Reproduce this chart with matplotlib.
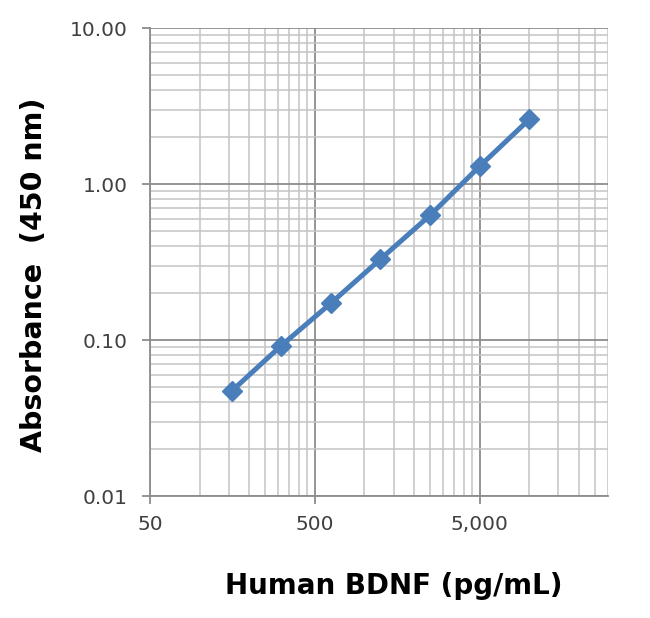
import matplotlib
matplotlib.use("Agg")
import matplotlib.pyplot as plt
from matplotlib.ticker import FixedLocator, NullFormatter

# Data
concentration = [156.25, 312.5, 625, 1250, 2500, 5000, 10000]
absorbance = [0.047, 0.092, 0.172, 0.33, 0.63, 1.30, 2.60]

x_major = [50, 500, 5000]
x_major_labels = ["50", "500", "5,000"]
y_major = [0.01, 0.1, 1, 10]
y_major_labels = ["0.01", "0.10", "1.00", "10.00"]

x_minor = [50 * k for k in range(2, 10)] + [500 * k for k in range(2, 10)] + [5000 * k for k in range(2, 7)]
y_minor = [d * k for d in (0.01, 0.1, 1) for k in range(2, 10)]

fig = plt.figure(figsize=(6.5, 6.18), dpi=100)
ax = fig.add_axes([150 / 650, 1 - 496 / 618, 458 / 650, 468 / 618])

ax.set_xscale("log")
ax.set_yscale("log")
ax.set_xlim(50, 30000)
ax.set_ylim(0.01, 10)

ax.xaxis.set_major_locator(FixedLocator(x_major))
ax.xaxis.set_minor_locator(FixedLocator(x_minor))
ax.yaxis.set_major_locator(FixedLocator(y_major))
ax.yaxis.set_minor_locator(FixedLocator(y_minor))
ax.set_xticklabels(x_major_labels)
ax.set_yticklabels(y_major_labels)
ax.xaxis.set_minor_formatter(NullFormatter())
ax.yaxis.set_minor_formatter(NullFormatter())

ax.grid(which="minor", color="#c4c4c4", linewidth=1.1, zorder=0)
ax.grid(which="major", color="#8c8c8c", linewidth=1.3, zorder=0.5)
ax.set_axisbelow(True)

for s in ("top", "right"):
    ax.spines[s].set_visible(False)
for s in ("left", "bottom"):
    ax.spines[s].set_color("#8c8c8c")
    ax.spines[s].set_linewidth(1.3)

ax.tick_params(which="major", direction="out", length=6, width=1.3, color="#8c8c8c",
               labelsize=14.5, labelcolor="#404040")
ax.tick_params(axis="y", which="major", pad=10)
ax.tick_params(axis="x", which="major", pad=8)
ax.tick_params(which="minor", length=0)

ax.plot(concentration, absorbance, color="#4a7ebb", linewidth=3.6, marker="D",
        markersize=10, markerfacecolor="#4a7ebb", markeredgecolor="#4a7ebb", zorder=3,
        clip_on=False)

ax.set_xlabel("Human BDNF (pg/mL)", fontsize=20, fontweight="bold")
ax.set_ylabel("Absorbance  (450 nm)", fontsize=20.5, fontweight="bold")
ax.xaxis.set_label_coords(0.533, -0.163)
ax.yaxis.set_label_coords(-0.222, 0.472)

fig.savefig("out.png", dpi=100)
